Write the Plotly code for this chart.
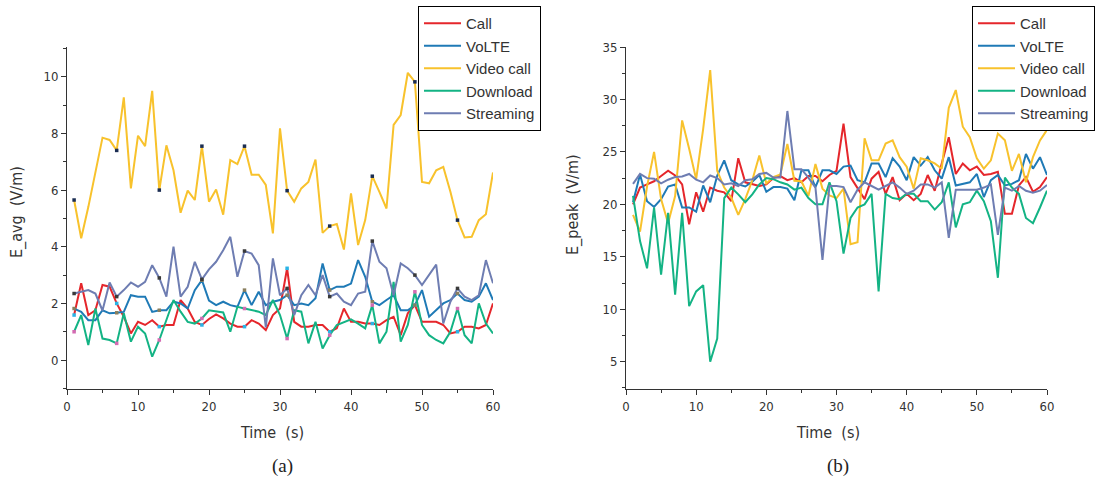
import plotly.graph_objects as go

# ---------------- data ----------------
time_s = list(range(1, 61))
series_names = ["Call", "VoLTE", "Video call", "Download", "Streaming"]

call_avg = [1.59, 2.71, 1.59, 1.76, 2.65, 2.59, 2.0, 1.53, 0.94, 1.35,
            1.24, 1.41, 1.18, 1.24, 1.24, 2.12, 1.82, 1.35, 1.24, 1.45,
            1.61, 1.47, 1.29, 1.18, 1.18, 1.41, 1.29, 1.06, 1.59, 1.82,
            3.24, 1.35, 1.18, 1.18, 1.24, 1.24, 1.0, 1.12, 1.82, 1.35,
            1.35, 1.29, 1.29, 1.24, 1.41, 1.53, 0.88, 1.65, 1.94, 1.35,
            1.35, 1.35, 1.24, 0.94, 1.0, 1.18, 1.18, 1.12, 1.24, 2.0]
volte_avg = [1.82, 1.7, 1.41, 1.41, 1.76, 1.65, 1.67, 1.7, 2.29, 2.24,
             2.24, 1.7, 1.76, 1.76, 2.06, 2.0, 1.82, 2.47, 2.82, 2.1,
             1.94, 2.06, 1.94, 1.88, 2.47, 1.94, 2.41, 1.94, 2.06, 2.12,
             2.29, 1.94, 2.0, 1.94, 2.18, 3.41, 2.47, 2.59, 2.59, 2.7,
             3.53, 2.94, 2.06, 1.94, 2.12, 2.29, 1.76, 1.76, 1.94, 2.47,
             1.53, 1.76, 2.0, 2.12, 2.35, 2.12, 2.06, 2.24, 2.71, 2.12]
video_avg = [5.65, 4.3, 5.4, 6.6, 7.85, 7.77, 7.4, 9.27, 6.06, 7.92,
             7.55, 9.5, 6.0, 7.58, 6.7, 5.2, 5.98, 5.65, 7.55, 5.59,
             6.02, 5.13, 7.06, 6.92, 7.55, 6.54, 6.54, 6.18, 4.47, 8.18,
             5.98, 5.59, 6.06, 6.29, 7.08, 4.49, 4.73, 4.8, 3.9, 5.88,
             4.06, 4.94, 6.49, 5.94, 5.35, 8.3, 8.65, 10.14, 9.82, 6.29,
             6.24, 6.7, 6.82, 5.94, 4.94, 4.33, 4.35, 4.94, 5.15, 6.62]
download_avg = [1.0, 1.59, 0.53, 1.82, 0.76, 0.71, 0.59, 1.65, 0.65, 1.18,
                0.94, 0.12, 0.71, 1.41, 2.12, 1.71, 1.35, 1.29, 1.47, 1.76,
                1.71, 1.68, 1.0, 1.88, 1.82, 1.76, 1.71, 1.59, 2.12, 1.59,
                0.76, 1.76, 1.71, 0.59, 1.35, 0.41, 0.88, 1.24, 1.35, 1.44,
                1.29, 1.12, 1.94, 0.59, 1.0, 2.76, 0.65, 1.24, 2.41, 1.24,
                0.88, 0.71, 0.59, 1.0, 1.82, 0.88, 0.59, 2.0, 1.29, 0.94]
streaming_avg = [2.35, 2.41, 2.47, 2.35, 1.75, 2.74, 2.24, 2.47, 2.74, 2.59,
                 2.76, 3.35, 2.9, 2.24, 4.0, 2.24, 2.59, 3.47, 2.85, 3.2,
                 3.47, 3.88, 4.35, 2.94, 3.85, 3.76, 3.35, 1.15, 3.59, 2.29,
                 2.53, 1.59, 2.29, 2.65, 2.29, 3.0, 2.24, 2.35, 2.06, 1.94,
                 2.35, 2.41, 4.2, 3.47, 3.24, 2.29, 3.41, 3.24, 3.0, 2.65,
                 3.0, 3.37, 1.29, 2.06, 2.53, 2.24, 2.12, 2.29, 3.53, 2.71]

call_peak = [20.0, 21.6, 21.9, 22.2, 22.7, 23.2, 22.75, 21.9, 18.1, 21.15,
             19.3, 21.6, 21.3, 21.15, 20.3, 24.4, 22.1, 21.9, 21.75, 21.9,
             22.5, 22.7, 22.3, 22.5, 22.1, 22.7, 22.7, 22.2, 22.8, 23.2,
             27.7, 22.6, 21.5, 20.5, 22.45, 23.1, 21.0, 22.6, 20.4, 21.0,
             20.4, 21.0, 22.8, 21.3, 23.9, 26.4, 22.9, 23.9, 23.25, 23.6,
             22.8, 22.9, 23.1, 19.1, 19.1, 21.8, 22.6, 21.2, 21.65, 22.6]
volte_peak = [20.2, 22.85, 20.3, 19.75, 20.5, 21.7, 21.9, 19.7, 19.7, 19.3,
              21.8, 20.2, 22.75, 24.2, 22.3, 21.9, 21.7, 22.15, 22.8, 21.2,
              21.65, 21.65, 21.5, 20.4, 23.25, 23.25, 21.65, 23.25, 23.25, 22.9,
              23.6, 23.7, 22.3, 22.1, 23.9, 23.9, 22.6, 24.4, 23.6, 22.3,
              24.5, 23.7, 24.5, 23.25, 22.45, 24.5, 21.8, 21.95, 22.1, 22.9,
              20.7, 22.3, 22.8, 21.8, 21.95, 22.3, 24.8, 23.4, 24.5, 22.8]
video_peak = [19.0, 17.4, 21.7, 25.0, 20.5, 18.2, 20.8, 28.0, 25.3, 22.4,
              27.2, 32.8, 23.2, 21.6, 20.65, 19.0, 20.5, 22.3, 24.65, 22.0,
              22.6, 22.85, 25.75, 22.25, 22.2, 20.8, 23.85, 21.5, 20.85, 20.6,
              21.5, 16.2, 16.4, 26.3, 24.2, 24.2, 25.8, 26.1, 24.5, 23.6,
              21.5, 24.4, 24.2, 23.9, 23.4, 29.2, 30.9, 27.4, 26.4, 24.4,
              23.4, 24.2, 26.75, 26.1, 23.2, 24.8, 22.1, 24.5, 26.1, 27.1]
download_peak = [20.8, 16.5, 13.9, 19.7, 13.3, 19.2, 11.4, 19.2, 10.3, 11.7,
                 12.3, 5.0, 7.2, 20.6, 21.6, 20.95, 20.2, 20.95, 21.9, 22.5,
                 22.4, 22.1, 21.9, 21.4, 21.6, 20.6, 20.0, 20.0, 22.1, 20.3,
                 15.3, 18.7, 19.7, 20.0, 21.0, 11.7, 21.0, 20.6, 20.5, 21.0,
                 21.0, 20.3, 20.3, 19.5, 20.2, 22.1, 17.8, 20.0, 20.2, 21.3,
                 20.3, 18.4, 13.0, 22.55, 21.6, 21.0, 18.7, 18.2, 19.7, 21.3]
streaming_peak = [21.95, 22.9, 22.5, 22.45, 22.0, 22.35, 22.6, 22.65, 22.9, 22.35,
                  22.1, 22.75, 22.5, 21.9, 22.0, 21.75, 22.3, 22.4, 22.9, 23.0,
                  22.55, 22.55, 28.9, 23.35, 23.35, 22.55, 21.6, 14.7, 21.75, 21.75,
                  21.65, 20.2, 21.4, 22.1, 21.75, 21.4, 21.75, 22.1, 21.6, 21.0,
                  21.3, 21.9, 21.9, 21.6, 22.1, 16.8, 21.4, 21.4, 21.4, 21.4,
                  21.6, 21.9, 17.1, 21.6, 21.3, 21.75, 21.3, 21.1, 21.3, 21.85]

x_ticks = [0, 10, 20, 30, 40, 50, 60]
avg_ticks = [0, 2, 4, 6, 8, 10]
peak_ticks = [5, 10, 15, 20, 25, 30, 35]

# ---------------- styling ----------------
W, H = 1102, 483
colors = ["#e5262b", "#1f7ab6", "#f8c22c", "#13b384", "#6e7db2"]
marker_colors = ["#2ab4e6", "#8a7f5e", "#1b2d52", "#d46ab2", "#3a3a3a"]
avg_data = [call_avg, volte_avg, video_avg, download_avg, streaming_avg]
peak_data = [call_peak, volte_peak, video_peak, download_peak, streaming_peak]


def fx(px):
    return px / W


def fy(py):
    return 1 - py / H


fig = go.Figure()
for name, col, ys in zip(series_names, colors, avg_data):
    fig.add_trace(go.Scatter(x=time_s, y=ys, mode="lines", name=name,
                             line=dict(color=col, width=2),
                             xaxis="x", yaxis="y", legend="legend"))
for name, mcol, ys in zip(series_names, marker_colors, avg_data):
    fig.add_trace(go.Scatter(x=time_s[::6], y=ys[::6], mode="markers",
                             marker=dict(symbol="square", size=3.5, color=mcol),
                             showlegend=False, hoverinfo="skip",
                             xaxis="x", yaxis="y"))
for name, col, ys in zip(series_names, colors, peak_data):
    fig.add_trace(go.Scatter(x=time_s, y=ys, mode="lines", name=name,
                             line=dict(color=col, width=2),
                             xaxis="x2", yaxis="y2", legend="legend2"))

tick_font = dict(family="Liberation Sans Narrow, DejaVu Sans Condensed, Arial", size=13, color="#333333")
axis_common = dict(showline=True, linecolor="#333333", linewidth=1,
                   ticks="outside", ticklen=5, tickcolor="#333333",
                   showgrid=False, zeroline=False, tickfont=tick_font)
legend_common = dict(xanchor="left", yanchor="top",
                     bgcolor="white", bordercolor="black", borderwidth=1,
                     font=dict(family="Liberation Sans, Arial", size=15, color="#333333"),
                     itemwidth=37, traceorder="normal", entrywidth=86)

fig.update_layout(
    width=W, height=H, autosize=False,
    margin=dict(l=0, r=0, t=0, b=0, autoexpand=False),
    paper_bgcolor="white", plot_bgcolor="white",
    xaxis=dict(domain=[fx(67), fx(493)], range=[0, 60], anchor="y",
               tickvals=x_ticks, minor=dict(dtick=5, ticks="outside", ticklen=3, tickcolor="#333333"),
               **axis_common),
    yaxis=dict(domain=[fy(389), fy(47)], range=[-1.02, 11.05], anchor="x",
               tickvals=avg_ticks, minor=dict(dtick=1, ticks="outside", ticklen=3, tickcolor="#333333"),
               **axis_common),
    xaxis2=dict(domain=[fx(626), fx(1047)], range=[0, 60], anchor="y2",
                tickvals=x_ticks, minor=dict(dtick=5, ticks="outside", ticklen=3, tickcolor="#333333"),
                **axis_common),
    yaxis2=dict(domain=[fy(389), fy(47)], range=[2.4, 35], anchor="x2",
                tickvals=peak_ticks, minor=dict(dtick=2.5, tick0=0, ticks="outside", ticklen=3, tickcolor="#333333"),
                **axis_common),
    legend=dict(x=fx(418), y=fy(6), **legend_common),
    legend2=dict(x=fx(972), y=fy(6), **legend_common),
    showlegend=True,
)

title_font = dict(family="Liberation Sans Narrow, DejaVu Sans Condensed, Arial", size=16, color="#333333")
cap_font = dict(family="Liberation Serif, Times New Roman, serif", size=19, color="#222222")
annots = [
    dict(text="E_avg  (V/m)", x=fx(17), y=fy(212), textangle=-90, font=title_font),
    dict(text="E_peak  (V/m)", x=fx(573), y=fy(205), textangle=-90, font=title_font),
    dict(text="Time  (s)", x=fx(272), y=fy(432), font=title_font),
    dict(text="Time  (s)", x=fx(828), y=fy(432), font=title_font),
    dict(text="(a)", x=fx(282), y=fy(466), font=cap_font),
    dict(text="(b)", x=fx(838), y=fy(466), font=cap_font),
]
for a in annots:
    fig.add_annotation(xref="paper", yref="paper", showarrow=False,
                       xanchor="center", yanchor="middle", **a)

# remove the browser's default page margin so the figure sits at (0, 0)
fig.write_html("out.html",
               config={"displayModeBar": False},
               post_script="document.body.style.margin='0px';document.body.style.overflow='hidden';")
